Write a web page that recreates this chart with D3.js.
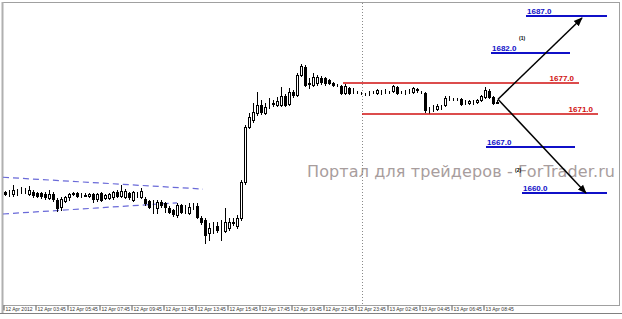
<!DOCTYPE html>
<html>
<head>
<meta charset="utf-8">
<script src="https://cdn.jsdelivr.net/npm/d3@7"></script>
<style>
  body { margin: 0; background: #fff; }
  svg { display: block; }
</style>
</head>
<body>
<div id="chart"></div>
<script>
// M15 bars, [open, high, low, close]
const candles = [
  [1660.2,1660.3,1659.7,1659.9],[1660.0,1660.5,1659.5,1660.0],[1659.9,1661.2,1659.5,1660.5],[1660.2,1660.6,1659.7,1660.1],
  [1660.5,1660.9,1660.0,1660.4],[1660.3,1660.8,1660.0,1660.3],[1659.9,1661.1,1659.7,1660.5],[1660.2,1660.5,1659.4,1659.7],
  [1660.0,1660.2,1659.4,1659.5],[1660.0,1660.2,1659.2,1659.5],[1659.8,1660.2,1659.1,1659.4],[1659.2,1660.5,1659.1,1659.8],
  [1659.8,1660.2,1658.8,1659.1],[1658.9,1659.2,1657.3,1657.7],[1657.9,1659.4,1657.4,1659.1],[1658.8,1659.5,1658.6,1659.4],
  [1659.4,1660.0,1658.9,1659.8],[1660.0,1660.2,1659.7,1659.9],[1660.0,1660.2,1659.4,1659.5],[1659.7,1660.0,1659.4,1659.7],
  [1659.6,1660.0,1659.5,1659.7],[1659.5,1660.0,1659.4,1659.8],[1659.8,1660.0,1658.6,1659.1],[1659.1,1660.0,1658.8,1659.8],
  [1660.0,1660.2,1658.8,1658.9],[1659.2,1659.8,1659.1,1659.7],[1659.2,1660.0,1659.1,1659.8],[1659.4,1660.3,1659.1,1660.2],
  [1660.2,1660.5,1659.4,1659.5],[1659.5,1661.2,1659.4,1660.3],[1659.4,1660.6,1659.2,1660.3],[1660.0,1660.2,1659.1,1659.4],
  [1658.9,1660.3,1658.8,1660.2],[1659.8,1660.2,1659.4,1659.9],[1659.4,1660.8,1659.2,1660.3],[1659.1,1659.4,1658.2,1658.5],
  [1658.8,1658.9,1657.7,1657.9],[1658.5,1658.9,1656.9,1658.4],[1657.7,1658.9,1656.9,1658.6],[1658.6,1658.9,1657.9,1658.2],
  [1658.5,1658.6,1657.1,1657.9],[1657.7,1658.0,1656.9,1657.1],[1657.4,1657.6,1656.5,1656.8],[1656.6,1658.5,1656.3,1658.2],
  [1658.2,1658.3,1656.9,1657.1],[1657.4,1658.2,1656.9,1657.4],[1656.9,1658.5,1656.8,1657.9],[1657.8,1658.5,1657.5,1657.9],
  [1658.0,1658.5,1656.2,1656.3],[1656.2,1656.5,1655.3,1655.6],[1655.9,1656.2,1652.4,1653.6],[1653.9,1655.4,1652.8,1654.7],
  [1654.7,1655.6,1653.9,1654.6],[1655.0,1655.6,1654.1,1654.4],[1654.7,1655.9,1652.8,1654.6],[1654.2,1657.7,1654.0,1655.6],
  [1654.7,1656.2,1654.4,1655.6],[1655.6,1656.2,1655.1,1655.5],[1655.0,1656.6,1654.7,1656.2],[1656.2,1662.0,1655.9,1661.7],
  [1661.7,1670.4,1661.4,1670.1],[1670.1,1672.2,1669.9,1671.6],[1671.1,1673.7,1670.8,1672.4],[1672.2,1675.4,1671.9,1673.4],
  [1673.4,1674.2,1672.1,1672.4],[1672.2,1673.7,1672.1,1673.1],[1673.7,1674.5,1673.0,1673.8],[1673.7,1674.2,1673.3,1673.6],
  [1673.4,1674.6,1673.3,1674.0],[1673.4,1676.2,1673.3,1674.8],[1674.8,1675.1,1673.3,1673.4],[1673.6,1676.0,1673.4,1675.4],
  [1675.4,1675.7,1674.6,1675.0],[1675.0,1678.3,1674.8,1678.0],[1678.0,1679.7,1677.9,1679.4],[1679.2,1679.5,1676.3,1676.5],
  [1676.8,1677.5,1676.0,1676.7],[1676.5,1678.3,1676.3,1677.7],[1676.8,1678.0,1676.5,1677.7],[1677.5,1677.9,1676.6,1676.9],
  [1677.5,1677.7,1676.5,1676.8],[1677.2,1677.4,1676.6,1676.8],[1676.8,1676.9,1676.3,1676.5],[1676.5,1676.6,1676.3,1676.4],
  [1676.3,1676.5,1675.1,1675.3],[1675.3,1676.6,1675.1,1676.3],[1676.0,1676.2,1675.1,1675.3],[1675.6,1676.0,1675.3,1675.5],
  [1675.4,1675.6,1675.3,1675.4],[1675.3,1675.4,1675.1,1675.2],[1675.1,1675.3,1675.0,1675.1],[1675.2,1675.6,1675.0,1675.3],
  [1675.4,1675.5,1675.2,1675.4],[1675.3,1675.9,1675.1,1675.7],[1675.4,1675.7,1675.1,1675.4],[1675.5,1675.9,1675.3,1675.6],
  [1675.4,1675.5,1675.3,1675.4],[1675.6,1676.5,1675.4,1676.3],[1676.2,1676.3,1675.1,1675.3],[1675.4,1675.6,1675.3,1675.4],
  [1675.4,1675.7,1675.1,1675.4],[1675.5,1675.9,1675.3,1675.6],[1675.4,1676.2,1675.3,1676.0],[1675.7,1676.0,1675.4,1675.8],
  [1675.4,1675.6,1675.3,1675.4],[1675.3,1675.4,1672.4,1672.7],[1672.7,1673.1,1672.2,1672.6],[1673.0,1673.4,1672.5,1672.9],
  [1672.8,1673.6,1672.7,1673.3],[1673.1,1673.4,1672.8,1673.1],[1673.4,1674.8,1673.3,1674.5],[1674.5,1674.8,1674.2,1674.5],
  [1674.3,1674.5,1674.2,1674.4],[1674.4,1674.5,1674.2,1674.3],[1674.3,1674.5,1673.4,1673.6],[1673.9,1674.2,1673.6,1673.9],
  [1673.7,1674.2,1673.6,1674.0],[1673.9,1674.2,1673.6,1673.9],[1673.9,1674.3,1673.7,1674.2],[1674.2,1675.0,1674.0,1674.8],
  [1674.7,1676.2,1674.5,1675.7],[1675.6,1675.9,1674.5,1674.6],[1674.6,1674.8,1673.6,1673.7],[1673.9,1674.2,1673.7,1673.8]
];

const timeLabels = ["12 Apr 2012", "12 Apr 03:45", "12 Apr 05:45", "12 Apr 07:45", "12 Apr 09:45", "12 Apr 11:45",
  "12 Apr 13:45", "12 Apr 15:45", "12 Apr 17:45", "12 Apr 19:45", "12 Apr 21:45", "12 Apr 23:45",
  "13 Apr 02:45", "13 Apr 04:45", "13 Apr 06:45", "13 Apr 08:45"];

// drawn horizontal levels: price, bar span, caption
const levelPrices = [1687.0, 1681.4, 1676.8, 1672.1, 1667.0, 1660.0];
const levelFrom   = [130.25, 121.5, 84.5, 89.25, 120.25, 129.25];
const levelTo     = [150.5, 141.25, 143.5, 148.25, 142.5, 150.5];
const levelText   = ["1687.0", "1682.0", "1677.0", "1671.0", "1667.0", "1660.0"];
const levelKind   = ["target", "target", "range", "range", "target", "target"];

// triangle boundaries [bar, price]
const triangleUpper = [[-0.5, 1662.4], [49.5, 1660.6]];
const triangleLower = [[-0.5, 1656.8], [43, 1658.5]];

// scenario arrows [bar, price]
const arrowStart = [123.25, 1674.3];
const arrowEnds = [[144.25, 1686.7], [145.25, 1660.0]];
const scenarioMarks = [["(1)", 128.5, 1683.3], ["(2)", 127.5, 1663.2]];

const sessionBar = 89.25;
const watermark = "Портал для трейдеров - ForTrader.ru";

const width = 622, height = 319;
const frame = { left: 3, right: 619, top: 3, bottom: 305 };

const svg = d3.select("#chart").append("svg")
  .attr("width", width)
  .attr("height", height);

const x = d3.scaleLinear().domain([-0.5, 153.5]).range([frame.left, frame.right]);
const y = d3.scaleLinear().domain([1687, 1660]).range([16, 193]);

const px = v => Math.round(v) + 0.5;

// frame
svg.append("rect")
  .attr("x", frame.left - 0.5).attr("y", frame.top - 0.5)
  .attr("width", frame.right - frame.left + 1).attr("height", frame.bottom - frame.top + 1)
  .attr("fill", "#fff").attr("stroke", "#a0a0a0").attr("stroke-width", 1);
svg.append("line")
  .attr("x1", frame.left - 0.5).attr("x2", frame.left - 0.5)
  .attr("y1", frame.top - 1).attr("y2", frame.bottom + 9)
  .attr("stroke", "#b0b0b0").attr("stroke-width", 2);
svg.append("line")
  .attr("x1", 0).attr("x2", width).attr("y1", 313.5).attr("y2", 313.5)
  .attr("stroke", "#808080");

// watermark
svg.append("text")
  .attr("x", 307).attr("y", 176.5)
  .attr("textLength", 308)
  .attr("lengthAdjust", "spacing")
  .style("font-family", "DejaVu Sans")
  .style("font-size", "16px")
  .attr("fill", "#a89d9d")
  .text(watermark);

// session separator
svg.append("line")
  .attr("x1", px(x(sessionBar))).attr("x2", px(x(sessionBar)))
  .attr("y1", frame.top).attr("y2", frame.bottom)
  .attr("stroke", "#8a8a8a").attr("stroke-dasharray", "1,2");

// triangle
const line = d3.line().x(d => x(d[0])).y(d => y(d[1]));
[triangleUpper, triangleLower].forEach(t => {
  svg.append("path").datum(t)
    .attr("d", line)
    .attr("fill", "none")
    .attr("stroke", "#6a6ad8")
    .attr("stroke-width", 1.2)
    .attr("stroke-dasharray", "6,4");
});

// candles
const bars = svg.append("g").selectAll("g")
  .data(candles)
  .enter().append("g");

bars.append("line")
  .attr("x1", (d, i) => px(x(i))).attr("x2", (d, i) => px(x(i)))
  .attr("y1", d => Math.round(y(d[1]))).attr("y2", d => Math.round(y(d[2])) + 1)
  .attr("stroke", "#000");

bars.append("rect")
  .attr("x", (d, i) => px(x(i)) - 1)
  .attr("y", d => Math.round(y(Math.max(d[0], d[3]))) + 0.5)
  .attr("width", 2)
  .attr("height", d => Math.max(0, Math.round(y(Math.min(d[0], d[3]))) - Math.round(y(Math.max(d[0], d[3])))))
  .attr("fill", d => d[3] >= d[0] ? "#fff" : "#000")
  .attr("stroke", "#000");

// levels
const levels = levelPrices.map((p, i) => ({
  price: p, from: levelFrom[i], to: levelTo[i], text: levelText[i], kind: levelKind[i]
}));

const lv = svg.append("g").selectAll("g").data(levels).enter().append("g");
lv.append("line")
  .attr("x1", d => x(d.from)).attr("x2", d => x(d.to))
  .attr("y1", d => Math.round(y(d.price))).attr("y2", d => Math.round(y(d.price)))
  .attr("stroke", d => d.kind === "range" ? "#d01010" : "#1010c8")
  .attr("stroke-width", d => d.kind === "range" ? 1.5 : 2);
lv.append("text")
  .attr("x", d => d.kind === "range" ? x(d.to) - 5 : x(d.from) + 1)
  .attr("y", d => Math.round(y(d.price)) - 2.5)
  .attr("text-anchor", d => d.kind === "range" ? "end" : "start")
  .style("font-family", "Liberation Sans")
  .style("font-size", "8px")
  .style("font-weight", "bold")
  .attr("fill", d => d.kind === "range" ? "#d01010" : "#1010c8")
  .text(d => d.text);

// arrows
svg.append("defs").append("marker")
  .attr("id", "head")
  .attr("viewBox", "0 0 10 10")
  .attr("refX", 9).attr("refY", 5)
  .attr("markerWidth", 6).attr("markerHeight", 6)
  .attr("orient", "auto")
  .append("path").attr("d", "M0,1 L10,5 L0,9 Z").attr("fill", "#000");

arrowEnds.forEach(e => {
  svg.append("path").datum([arrowStart, e])
    .attr("d", line)
    .attr("stroke", "#000").attr("stroke-width", 1.5)
    .attr("marker-end", "url(#head)");
});

scenarioMarks.forEach(m => {
  svg.append("text")
    .attr("x", x(m[1])).attr("y", y(m[2]))
    .style("font-family", "Liberation Sans")
    .style("font-size", "5px")
    .style("font-weight", "bold")
    .text(m[0]);
});

// time axis
const xAxis = d3.axisBottom(x)
  .tickValues(timeLabels.map((t, k) => 8 * k - 0.5))
  .tickFormat((d, k) => timeLabels[k])
  .tickSize(5)
  .tickSizeOuter(0);

const ax = svg.append("g")
  .attr("transform", `translate(0,${frame.bottom + 0.5})`)
  .call(xAxis);
ax.select(".domain").remove();
ax.selectAll(".tick line").attr("stroke", "#555").attr("transform", "translate(0.5,0)");
ax.selectAll(".tick text")
  .attr("text-anchor", "start")
  .attr("x", 2).attr("y", 1.5).attr("dy", "0.71em")
  .style("font-family", "Liberation Sans")
  .style("font-size", "5px")
  .attr("fill", "#333");
</script>
</body>
</html>
